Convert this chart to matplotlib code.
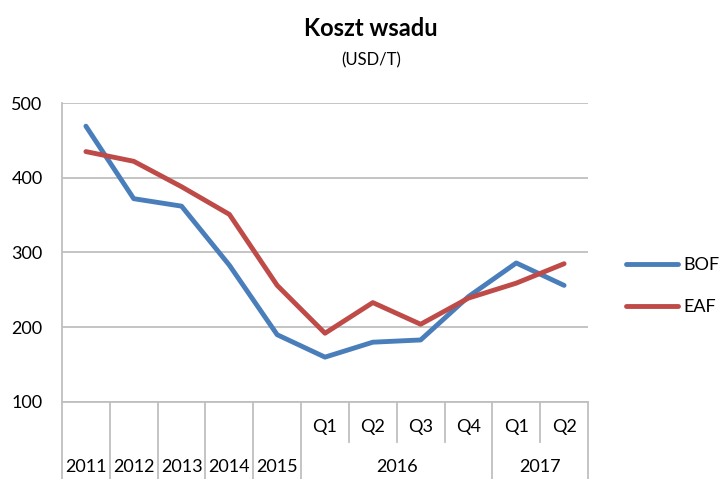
import matplotlib
matplotlib.use("Agg")
import matplotlib.pyplot as plt
from matplotlib.lines import Line2D

plt.rcParams['font.family'] = ['Lato', 'DejaVu Sans']

categories = ["2011", "2012", "2013", "2014", "2015", "Q1", "Q2", "Q3", "Q4", "Q1", "Q2"]
groups = [("2016", 5, 8), ("2017", 9, 10)]
bof = [469, 372, 362, 283, 190, 160, 180, 183, 241, 286, 256]
eaf = [435, 422, 388, 351, 256, 192, 233, 204, 239, 259, 285]
yticks = [100, 200, 300, 400, 500]

blue = "#4A7EBB"
red = "#BE4B48"
grid = "#BFBFBF"

fig = plt.figure(figsize=(7.24, 4.79), dpi=100)
ax = fig.add_axes([62/724, 77/479, 526/724, 299/479])

x = list(range(len(categories)))
l1, = ax.plot(x, bof, color=blue, lw=3.5, solid_capstyle='round', solid_joinstyle='round', label="BOF", zorder=3)
l2, = ax.plot(x, eaf, color=red, lw=3.5, solid_capstyle='round', solid_joinstyle='round', label="EAF", zorder=3)

ax.set_xlim(-0.5, len(categories) - 0.5)
ax.set_ylim(100, 500)
ax.set_yticks(yticks)
ax.set_yticklabels([str(v) for v in yticks], fontsize=13)
ax.tick_params(axis='y', length=0, pad=14)
ax.yaxis.grid(True, color=grid, lw=1.3)
ax.set_axisbelow(True)
for s in ['top', 'right']:
    ax.spines[s].set_visible(False)
ax.spines['left'].set_color(grid)
ax.spines['left'].set_linewidth(1.3)
ax.spines['bottom'].set_color(grid)
ax.spines['bottom'].set_linewidth(1.3)
ax.set_xticks([])

trans = ax.get_xaxis_transform()
group_inner = set()
for name, a, b in groups:
    for i in range(a, b):
        group_inner.add(i + 0.5)
for i in range(len(categories) + 1):
    xb = i - 0.5
    y0 = -0.134 if xb in group_inner else -0.262
    ax.add_line(Line2D([xb, xb], [0, y0], transform=trans, color=grid, lw=1.3, clip_on=False))

group_members = set()
for name, a, b in groups:
    for i in range(a, b + 1):
        group_members.add(i)
        ax.text(i, -0.085, categories[i], transform=trans, ha='center', va='center', fontsize=13)
    ax.text((a + b) / 2, -0.218, name, transform=trans, ha='center', va='center', fontsize=13)
for i, c in enumerate(categories):
    if i not in group_members:
        ax.text(i, -0.218, c, transform=trans, ha='center', va='center', fontsize=13)

fig.text(371/724, 1 - 28/479, "Koszt wsadu", ha='center', va='center', fontsize=17, fontweight='bold')
fig.text(371/724, 1 - 60/479, "(USD/T)", ha='center', va='center', fontsize=12)

leg = fig.legend(handles=[l1, l2], loc='center left', bbox_to_anchor=(626/724, 1 - 286/479),
                 frameon=False, fontsize=13, handlelength=2.9, labelspacing=1.45, handletextpad=0.3,
                 borderpad=0, borderaxespad=0)

fig.savefig("out.png", dpi=100)
